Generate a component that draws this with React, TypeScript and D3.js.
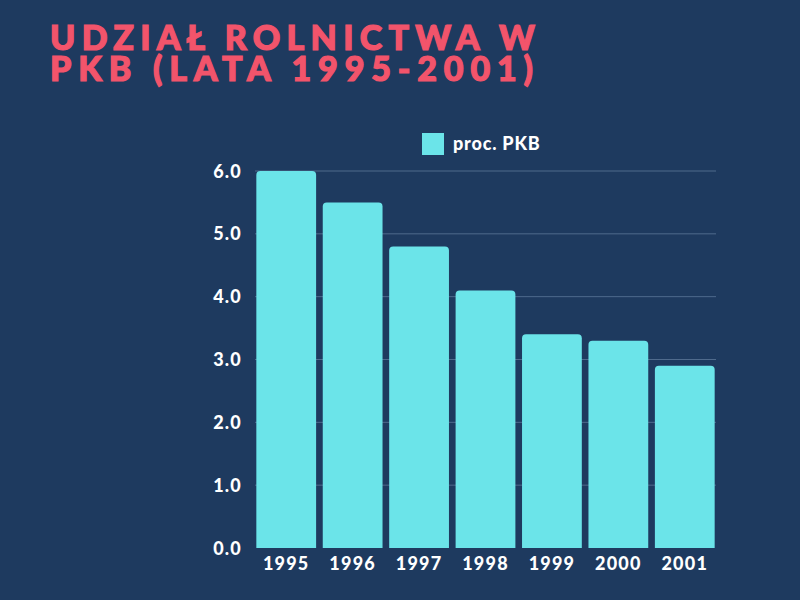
import React from "react";
import * as d3 from "d3";

const years = ["1995", "1996", "1997", "1998", "1999", "2000", "2001"];
const values = [6.0, 5.5, 4.8, 4.1, 3.4, 3.3, 2.9];
const yTicks = [0, 1, 2, 3, 4, 5, 6];
const titleLines = ["UDZIAŁ ROLNICTWA W", "PKB (LATA 1995-2001)"];
const legendLabel = "proc. PKB";

const BG = "#1e3a5f";
const BAR = "#6be4e9";
const TITLE = "#f2546b";

export default function App() {
  const W = 800, H = 600;
  const x = d3.scaleBand<string>().domain(years).range([255, 716]).paddingInner(0.1).paddingOuter(0.02);
  const y = d3.scaleLinear().domain([0, 6]).range([548, 171]);
  const r = 4;
  const font = "Lato, sans-serif";
  return (
    <svg width={W} height={H} style={{ position: "absolute", left: 0, top: 0, display: "block" }}>
      <rect x={0} y={0} width={W} height={H} fill={BG} />
      <text fill={TITLE} stroke={TITLE} strokeWidth={1.2} fontFamily={font} fontWeight={900} fontSize={34}>
        {titleLines.map((t, i) => (
          <tspan key={t} x={50} y={50 + i * 31} textLength={i === 0 ? 485 : 483} lengthAdjust="spacing">{t}</tspan>
        ))}
      </text>
      {yTicks.slice(1).map((t) => (
        <line key={t} x1={255} x2={716} y1={y(t)} y2={y(t)} stroke="#4f6a8c" strokeWidth={1} />
      ))}
      {yTicks.map((t) => (
        <text key={"l" + t} x={242} y={y(t) + 6.5} textAnchor="end" fill="#ffffff" fontFamily={font} fontWeight={900} fontSize={18} letterSpacing={1.2}>{t.toFixed(1)}</text>
      ))}
      {years.map((yr, i) => {
        const x0 = x(yr)!;
        const w = x.bandwidth();
        const top = y(values[i]);
        const bot = y(0);
        const d = `M${x0},${bot} L${x0},${top + r} Q${x0},${top} ${x0 + r},${top} L${x0 + w - r},${top} Q${x0 + w},${top} ${x0 + w},${top + r} L${x0 + w},${bot} Z`;
        return <path key={yr} d={d} fill={BAR} />;
      })}
      {years.map((yr) => (
        <text key={"x" + yr} x={x(yr)! + x.bandwidth() / 2} y={570} textAnchor="middle" fill="#ffffff" fontFamily={font} fontWeight={900} fontSize={18} letterSpacing={1.2}>{yr}</text>
      ))}
      <rect x={422} y={133} width={22} height={22} fill={BAR} />
      <text x={453} y={150} fill="#ffffff" fontFamily={font} fontWeight={900} fontSize={18} letterSpacing={0.8}>{legendLabel}</text>
    </svg>
  );
}
